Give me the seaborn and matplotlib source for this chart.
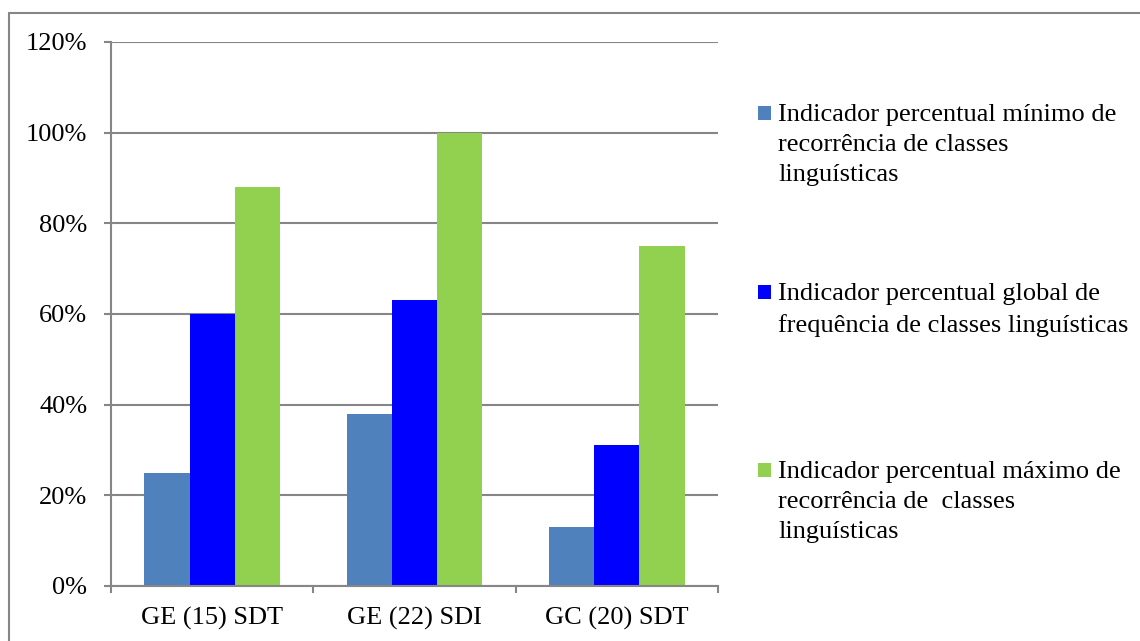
import matplotlib
matplotlib.use("Agg")
import matplotlib.pyplot as plt
from matplotlib.patches import Rectangle
from matplotlib.lines import Line2D
from matplotlib.ticker import FuncFormatter
import pandas as pd
import seaborn as sns

# dados
grupos = ["GE (15) SDT", "GE (22) SDI", "GC (20) SDT"]
minimo = [25, 38, 13]
global_freq = [60, 63, 31]
maximo = [88, 100, 75]
series = [
    "Indicador percentual mínimo de\nrecorrência de classes\nlinguísticas",
    "Indicador percentual global de\nfrequência de classes linguísticas",
    "Indicador percentual máximo de\nrecorrência de  classes\nlinguísticas",
]
cores = ["#4F81BD", "#0000FF", "#92D050"]

df = pd.DataFrame({
    "grupo": grupos * 3,
    "valor": minimo + global_freq + maximo,
    "serie": [series[0]] * 3 + [series[1]] * 3 + [series[2]] * 3,
})

sns.set_style("white")
plt.rcParams["font.family"] = ["Liberation Serif", "DejaVu Serif"]
plt.rcParams["font.size"] = 19
plt.rcParams["text.color"] = "black"
plt.rcParams["xtick.labelcolor"] = "black"
plt.rcParams["ytick.labelcolor"] = "black"

fig = plt.figure(figsize=(11.4, 6.41), dpi=100)
ax = fig.add_axes([111 / 1140, 1 - 586 / 641, 607 / 1140, 544 / 641])

sns.barplot(data=df, x="grupo", y="valor", hue="serie", hue_order=series,
            palette=cores, saturation=1, width=0.67, linewidth=0,
            legend=False, ax=ax)

grey = "#868686"
ax.set_ylim(0, 120)
ax.set_xlim(-0.5, 2.5)
ax.set_yticks(range(0, 121, 20))
ax.yaxis.set_major_formatter(FuncFormatter(lambda v, p: f"{v:.0f}%"))
ax.grid(axis="y", color=grey, linewidth=1.5)
ax.set_axisbelow(True)
ax.set_xlabel("")
ax.set_ylabel("")
for s in ["top", "right"]:
    ax.spines[s].set_visible(False)
for s in ["left", "bottom"]:
    ax.spines[s].set_color(grey)
    ax.spines[s].set_linewidth(1.5)

ax.tick_params(axis="y", length=5, width=1.5, color=grey, direction="out",
               pad=12, labelsize=19, labelcolor="black", left=True)
ax.tick_params(axis="x", which="major", length=0, pad=15, labelsize=19,
               labelcolor="black")
ax.set_xticks([-0.5, 0.5, 1.5, 2.5], minor=True)
ax.tick_params(axis="x", which="minor", length=5, width=1.5, color=grey,
               direction="out", bottom=True)

# legenda desenhada a mao (quadrado alinhado com a primeira linha)
topos = [106, 285, 463]
for cor, rotulo, y in zip(cores, series, topos):
    fig.patches.append(Rectangle((758 / 1140, 1 - (y + 14) / 641), 13 / 1140, 14 / 641,
                                 transform=fig.transFigure, facecolor=cor,
                                 edgecolor="none"))
    fig.text(778 / 1140, 1 - (y - 2) / 641, rotulo, ha="left", va="top",
             fontsize=19, linespacing=1.48, color="black")

# moldura: so topo e lado esquerdo
fig.lines.append(Line2D([9 / 1140, 1.0], [1 - 13 / 641, 1 - 13 / 641],
                        transform=fig.transFigure, color=grey, linewidth=1.5))
fig.lines.append(Line2D([9 / 1140, 9 / 1140], [0.0, 1 - 13 / 641],
                        transform=fig.transFigure, color=grey, linewidth=1.5))

plt.savefig("out.png", dpi=100)
